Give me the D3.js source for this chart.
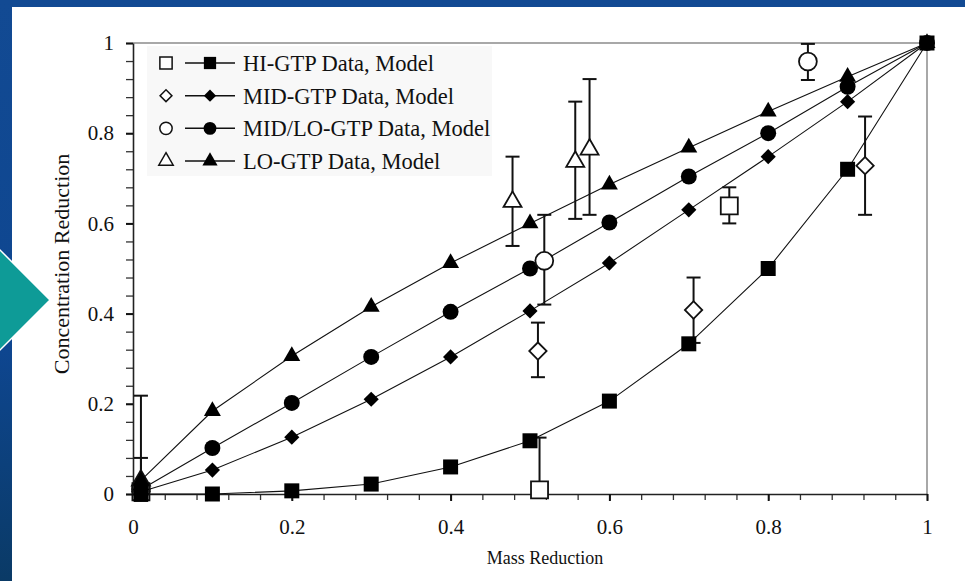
<!DOCTYPE html>
<html>
<head>
<meta charset="utf-8">
<script src="https://cdn.jsdelivr.net/npm/d3@7"></script>
<style>
body { margin: 0; background: #0f4690; }
svg { display: block; }
</style>
</head>
<body>
<svg id="chart"></svg>
<script>
// mass reduction levels used by the model curves
var massLevels = [0.01, 0.1, 0.2, 0.3, 0.4, 0.5, 0.6, 0.7, 0.8, 0.9, 1];

// model curves (filled markers)
var hiModel    = [0.0, 0.0, 0.007, 0.022, 0.06, 0.118, 0.206, 0.333, 0.5, 0.72, 1];
var midModel   = [0.005, 0.053, 0.126, 0.21, 0.304, 0.406, 0.512, 0.63, 0.748, 0.87, 1];
var midLoModel = [0.01, 0.102, 0.202, 0.304, 0.404, 0.5, 0.602, 0.704, 0.8, 0.903, 1];
var loModel    = [0.03, 0.184, 0.306, 0.415, 0.512, 0.6, 0.686, 0.768, 0.848, 0.925, 1];

// measured data (open markers): x, y, error low, error high
var hiDataX = [0.01, 0.512, 0.751];
var hiDataY = [0.005, 0.009, 0.639];
var hiDataLow = [null, 0.0, 0.60];
var hiDataHigh = [null, 0.125, 0.68];

var midDataX = [0.01, 0.51, 0.706, 0.922];
var midDataY = [0.005, 0.317, 0.408, 0.728];
var midDataLow = [null, 0.259, 0.335, 0.619];
var midDataHigh = [null, 0.38, 0.48, 0.837];

var midLoDataX = [0.01, 0.518, 0.85];
var midLoDataY = [0.01, 0.517, 0.959];
var midLoDataLow = [-0.015, 0.42, 0.918];
var midLoDataHigh = [0.08, 0.619, 0.998];

var loDataX = [0.01, 0.478, 0.557, 0.575];
var loDataY = [0.03, 0.648, 0.737, 0.764];
var loDataLow = [-0.015, 0.55, 0.61, 0.619];
var loDataHigh = [0.218, 0.748, 0.87, 0.92];

var seriesNames = ["HI-GTP Data, Model", "MID-GTP Data, Model", "MID/LO-GTP Data, Model", "LO-GTP Data, Model"];

var xTicks = [0, 0.2, 0.4, 0.6, 0.8, 1];
var yTicks = [0, 0.2, 0.4, 0.6, 0.8, 1];
var minorTicks = d3.range(0, 26).map(i => i * 0.04);

var width = 965, height = 581;
var margin = { top: 43, right: 38, bottom: 87, left: 133 };
var font = "'Liberation Serif', 'Times New Roman', serif";

var svg = d3.select("#chart")
    .attr("width", width)
    .attr("height", height);

var defs = svg.append("defs");
var grad = defs.append("linearGradient").attr("id", "bg")
    .attr("x1", 0).attr("y1", 0).attr("x2", 0).attr("y2", 1);
grad.append("stop").attr("offset", "0%").attr("stop-color", "#124a93");
grad.append("stop").attr("offset", "60%").attr("stop-color", "#0e4690");
grad.append("stop").attr("offset", "100%").attr("stop-color", "#0a3a66");

svg.append("rect").attr("width", width).attr("height", height).attr("fill", "url(#bg)");

// white slide panel
svg.append("rect")
    .attr("x", 12).attr("y", 7)
    .attr("width", width - 12).attr("height", height - 7)
    .attr("fill", "#ffffff");

// teal arrow on the left edge
svg.append("polygon")
    .attr("points", "-50,300 0,250 50,300 0,350")
    .attr("fill", "#0e9b97")
    .attr("stroke", "#ffffff")
    .attr("stroke-width", 1.5);

var xScale = d3.scaleLinear()
    .domain([0, 1])
    .range([margin.left, width - margin.right]);

var yScale = d3.scaleLinear()
    .domain([0, 1])
    .range([height - margin.bottom, margin.top]);

var x0 = xScale(0), x1 = xScale(1), y0 = yScale(0), y1 = yScale(1);

// top and right frame
svg.append("path")
    .attr("d", `M${x0},${y1}H${x1}V${y0}`)
    .attr("fill", "none")
    .attr("stroke", "#8c8c8c")
    .attr("stroke-width", 1.5);

// minor ticks
svg.append("g")
    .attr("transform", `translate(${x0},0)`)
    .call(d3.axisLeft(yScale).tickValues(minorTicks).tickSize(7).tickFormat(""))
    .call(g => g.select(".domain").remove())
    .selectAll("line").attr("stroke", "#333").attr("stroke-width", 1.3);

svg.append("g")
    .attr("transform", `translate(0,${y0})`)
    .call(d3.axisBottom(xScale).tickValues(minorTicks).tickSize(6).tickFormat(""))
    .call(g => g.select(".domain").remove())
    .selectAll("line").attr("stroke", "#333").attr("stroke-width", 1.3);

// major axes
var yAxis = svg.append("g")
    .attr("transform", `translate(${x0},0)`)
    .call(d3.axisLeft(yScale).tickValues(yTicks).tickSize(7).tickSizeOuter(0).tickPadding(12).tickFormat(d3.format("~g")));

var xAxis = svg.append("g")
    .attr("transform", `translate(0,${y0})`)
    .call(d3.axisBottom(xScale).tickValues(xTicks).tickSize(7).tickSizeOuter(0).tickPadding(18).tickFormat(d3.format("~g")));

[yAxis, xAxis].forEach(function(ax) {
    ax.attr("font-family", null);
    ax.select(".domain").attr("stroke", "#222").attr("stroke-width", 1.6);
    ax.selectAll("line").attr("stroke", "#111").attr("stroke-width", 2);
    ax.selectAll("text")
        .attr("fill", "#111")
        .style("font-family", font)
        .style("font-size", "21px");
});

// axis titles
svg.append("text")
    .attr("x", 545)
    .attr("y", 564)
    .attr("text-anchor", "middle")
    .style("font-family", font)
    .style("font-size", "18px")
    .attr("fill", "#111")
    .text("Mass Reduction");

svg.append("text")
    .attr("transform", `translate(69,264)rotate(-90)`)
    .attr("text-anchor", "middle")
    .style("font-family", font)
    .style("font-size", "22px")
    .attr("fill", "#111")
    .text("Concentration Reduction");

var shapes = [d3.symbolSquare, "diamond", d3.symbolCircle, d3.symbolTriangle];
var filledSizes = [225, 115, 200, 125];
var openSizes = [290, 150, 250, 140];

function markerPath(shape, size) {
    if (shape === "diamond") return d3.symbol(d3.symbolSquare, size)();
    return d3.symbol(shape, size)();
}
function markerRotate(shape) {
    return shape === "diamond" ? "rotate(45)" : "";
}

var dataSets = [
    { x: hiDataX, y: hiDataY, lo: hiDataLow, hi: hiDataHigh },
    { x: midDataX, y: midDataY, lo: midDataLow, hi: midDataHigh },
    { x: midLoDataX, y: midLoDataY, lo: midLoDataLow, hi: midLoDataHigh },
    { x: loDataX, y: loDataY, lo: loDataLow, hi: loDataHigh }
];
var models = [hiModel, midModel, midLoModel, loModel];

function drawOpen(layer, ds, s, keep) {
    layer.selectAll(null)
        .data(ds.x.map((xv, i) => [xv, ds.y[i]]).filter(keep))
        .enter()
        .append("path")
        .attr("d", markerPath(shapes[s], openSizes[s]))
        .attr("transform", d => `translate(${xScale(d[0])},${yScale(d[1])})${markerRotate(shapes[s])}`)
        .attr("fill", "#fff")
        .attr("stroke", "#111")
        .attr("stroke-width", 1.8);
}

// error bars
dataSets.forEach(function(ds) {
    ds.x.forEach(function(xv, i) {
        if (ds.lo[i] == null) return;
        var g = svg.append("g").attr("stroke", "#111").attr("stroke-width", 2);
        var cx = xScale(xv);
        g.append("line").attr("x1", cx).attr("x2", cx).attr("y1", yScale(ds.lo[i])).attr("y2", yScale(ds.hi[i]));
        [ds.lo[i], ds.hi[i]].forEach(function(v) {
            g.append("line").attr("x1", cx - 7).attr("x2", cx + 7).attr("y1", yScale(v)).attr("y2", yScale(v));
        });
    });
});

// the data points near the origin sit underneath the model markers
dataSets.forEach((ds, s) => drawOpen(svg, ds, s, d => d[0] < 0.05));

// model lines and filled markers
var line = d3.line().x(d => xScale(d[0])).y(d => yScale(d[1]));
models.forEach(function(m, s) {
    var pts = massLevels.map((xv, i) => [xv, m[i]]);
    svg.append("path")
        .datum(pts)
        .attr("d", line)
        .attr("fill", "none")
        .attr("stroke", "#111")
        .attr("stroke-width", 1.1);
    svg.selectAll(null)
        .data(pts)
        .enter()
        .append("path")
        .attr("d", markerPath(shapes[s], filledSizes[s]))
        .attr("transform", d => `translate(${xScale(d[0])},${yScale(d[1])})${markerRotate(shapes[s])}`)
        .attr("fill", "#000");
});

// other open data markers on top
dataSets.forEach((ds, s) => drawOpen(svg, ds, s, d => d[0] >= 0.05));

// legend
var legend = svg.append("g");
legend.append("rect")
    .attr("x", 147).attr("y", 46)
    .attr("width", 345).attr("height", 130)
    .attr("fill", "#f8f8f8");

var legendY = d3.scalePoint().domain(seriesNames).range([63, 161]);
seriesNames.forEach(function(name, s) {
    var ly = legendY(name);
    var row = legend.append("g").attr("transform", `translate(0,${ly})`);
    row.append("path")
        .attr("d", markerPath(shapes[s], [150, 70, 120, 90][s]))
        .attr("transform", `translate(166,0)${markerRotate(shapes[s])}`)
        .attr("fill", "#fff")
        .attr("stroke", "#111")
        .attr("stroke-width", 1.5);
    row.append("line")
        .attr("x1", 185).attr("x2", 235)
        .attr("stroke", "#111").attr("stroke-width", 1.5);
    row.append("path")
        .attr("d", markerPath(shapes[s], [150, 75, 130, 100][s]))
        .attr("transform", `translate(210,0)${markerRotate(shapes[s])}`)
        .attr("fill", "#000");
    row.append("text")
        .attr("x", 243)
        .attr("dy", "0.35em")
        .style("font-family", font)
        .style("font-size", "22.5px")
        .attr("fill", "#111")
        .text(name);
});
</script>
</body>
</html>
